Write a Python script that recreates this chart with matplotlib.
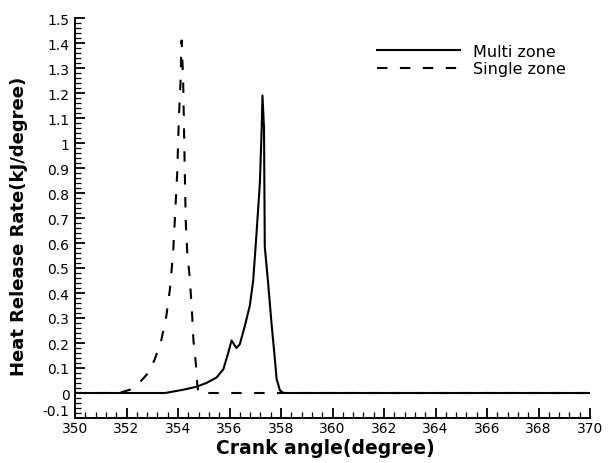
import matplotlib
matplotlib.use("Agg")
import matplotlib.pyplot as plt
import numpy as np
from matplotlib.ticker import MultipleLocator

plt.rcParams['font.family'] = ['DejaVu Sans']

# Multi zone (solid)
multi_x = [350, 353.5, 354.2, 354.72, 355.1, 355.5, 355.76, 355.95, 356.08, 356.27, 356.4,
           356.6, 356.79, 356.92, 357.05, 357.18, 357.25, 357.28, 357.34, 357.37, 357.5,
           357.63, 357.74, 357.83, 357.96, 358.1, 370]
multi_y = [0, 0, 0.013, 0.025, 0.04, 0.062, 0.095, 0.16, 0.21, 0.18, 0.195,
           0.27, 0.35, 0.45, 0.64, 0.84, 1.06, 1.19, 1.06, 0.585, 0.44,
           0.28, 0.16, 0.056, 0.01, 0, 0]

# Single zone (dashed)
single_x = [350, 351.6, 351.87, 352.13, 352.58, 352.84, 353.1, 353.36, 353.55, 353.68, 353.81,
            353.9, 353.97, 354.03, 354.1, 354.14, 354.2, 354.25, 354.3, 354.36, 354.44,
            354.53, 354.6, 354.7, 354.75, 354.8, 370]
single_y = [0, 0, 0.005, 0.013, 0.05, 0.08, 0.135, 0.215, 0.31, 0.41, 0.56,
            0.74, 0.88, 1.09, 1.25, 1.41, 1.25, 0.96, 0.69, 0.56, 0.48,
            0.35, 0.21, 0.11, 0.03, 0, 0]

x_ticks = [350, 352, 354, 356, 358, 360, 362, 364, 366, 368, 370]
y_ticks = [-0.1, 0, 0.1, 0.2, 0.3, 0.4, 0.5, 0.6, 0.7, 0.8, 0.9, 1.0, 1.1, 1.2, 1.3, 1.4, 1.5]
y_tick_labels = ['-0.1', '0', '0.1', '0.2', '0.3', '0.4', '0.5', '0.6', '0.7', '0.8', '0.9',
                 '1', '1.1', '1.2', '1.3', '1.4', '1.5']

fig = plt.figure(figsize=(6.08, 4.64), dpi=100)
ax = fig.add_axes([75 / 608, 1 - 419 / 464, 515 / 608, 400 / 464])

ax.plot(multi_x, multi_y, color='black', lw=1.5, label='Multi zone')
ax.plot(single_x, single_y, color='black', lw=1.5, linestyle=(0, (5, 6)), label='Single zone')

ax.set_xlim(350, 370)
ax.set_ylim(-0.1, 1.5)
ax.set_xticks(x_ticks)
ax.set_xticklabels([str(v) for v in x_ticks])
ax.set_yticks(y_ticks)
ax.set_yticklabels(y_tick_labels)
ax.xaxis.set_minor_locator(MultipleLocator(0.4))
ax.yaxis.set_minor_locator(MultipleLocator(0.02))

for s in ['top', 'right']:
    ax.spines[s].set_visible(False)
for s in ['left', 'bottom']:
    ax.spines[s].set_linewidth(1.4)

ax.tick_params(axis='x', which='major', direction='in', length=7, width=1.3, labelsize=10, pad=2)
ax.tick_params(axis='y', which='major', direction='in', length=7, width=1.3, labelsize=10, pad=4)
ax.tick_params(which='minor', direction='in', length=4, width=0.9)

# lowest y label sits a little above the corner, as in the reference
ax.get_yticklabels()[0].set_verticalalignment('bottom')

ax.set_xlabel('Crank angle(degree)', fontsize=13.5, fontweight='bold')
ax.xaxis.set_label_coords((325 - 75) / 515, -(439 - 419) / 400)
ax.set_ylabel('Heat Release Rate(kJ/degree)', fontsize=13, fontweight='bold')
ax.yaxis.set_label_coords((28 - 75) / 515, (419 - 226) / 400)

leg = ax.legend(loc='upper left', bbox_to_anchor=(302 / 515, 1 - 26 / 400), frameon=False,
                fontsize=11.5, handlelength=5.2, handletextpad=0.8, labelspacing=0.15,
                borderaxespad=0, borderpad=0)

fig.savefig('out.png', dpi=100)
